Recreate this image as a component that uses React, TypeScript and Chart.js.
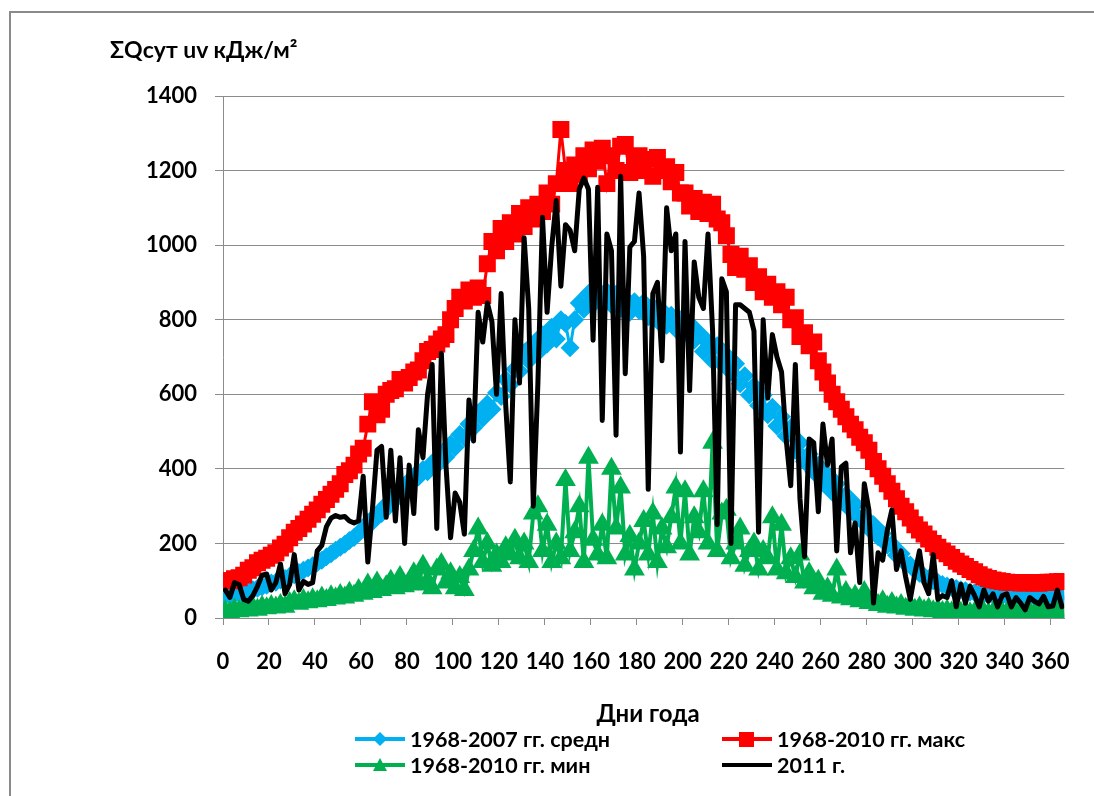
import React, { useEffect, useRef } from 'react';
import Chart from 'chart.js/auto';

// Day of year (every second day)
const days: number[] = Array.from({ length: 183 }, (_, i) => 1 + i * 2);

const seriesLabels = ['1968-2007 гг. средн', '1968-2010 гг. макс', '1968-2010 гг. мин', '2011 г.'];
const xTickValues = [0, 20, 40, 60, 80, 100, 120, 140, 160, 180, 200, 220, 240, 260, 280, 300, 320, 340, 360];
const yTickValues = [0, 200, 400, 600, 800, 1000, 1200, 1400];

const meanValues = [
  62, 60, 66, 65, 70, 74, 76, 80, 84, 88,
  94, 96, 102, 106, 112, 116, 122, 128, 134, 140,
  148, 155, 164, 172, 182, 190, 198, 208, 216, 228,
  238, 256, 258, 278, 280, 304, 306, 330, 330, 356,
  358, 380, 378, 398, 392, 416, 410, 440, 432, 466,
  458, 492, 484, 520, 510, 550, 536, 574, 560, 604,
  594, 640, 626, 668, 662, 712, 690, 735, 712, 760,
  735, 780, 748, 800, 790, 725, 800, 845, 828, 870,
  842, 880, 852, 875, 840, 868, 830, 856, 820, 848,
  825, 846, 808, 835, 798, 825, 785, 812, 775, 800,
  765, 790, 745, 765, 715, 740, 690, 730, 682, 705,
  660, 682, 628, 650, 598, 622, 570, 598, 545, 565,
  515, 540, 488, 510, 450, 470, 420, 440, 392, 410,
  362, 385, 338, 360, 316, 330, 290, 305, 266, 272,
  240, 250, 218, 226, 196, 198, 168, 172, 146, 142,
  128, 120, 112, 106, 100, 95, 90, 86, 82, 79,
  76, 73, 70, 68, 66, 64, 63, 62, 61, 60,
  60, 59, 58, 58, 57, 57, 56, 56, 55, 55,
  55, 54, 54,
];

const maxValues = [
  100, 100, 105, 108, 115, 128, 135, 148, 155, 160,
  168, 175, 188, 198, 215, 230, 240, 252, 265, 278,
  290, 305, 318, 332, 345, 360, 385, 395, 410, 440,
  455, 520, 580, 545, 560, 600, 610, 615, 640, 630,
  645, 660, 665, 690, 715, 720, 735, 748, 760, 800,
  830, 860, 850, 880, 860, 885, 865, 950, 1010, 985,
  1045, 1010, 1060, 1030, 1085, 1050, 1100, 1070, 1110, 1090,
  1140, 1110, 1165, 1310, 1200, 1165, 1215, 1190, 1240, 1205,
  1255, 1225, 1260, 1165, 1240, 1200, 1265, 1270, 1195, 1230,
  1240, 1200, 1230, 1185, 1235, 1200, 1210, 1170, 1195, 1140,
  1140, 1105, 1125, 1090, 1115, 1085, 1110, 1070, 1060, 1025,
  975, 940, 970, 935, 945, 900, 915, 875, 895, 860,
  875, 840, 860, 800, 805, 755, 765, 730, 740, 690,
  660, 630, 600, 580, 560, 540, 520, 505, 485, 470,
  450, 420, 400, 380, 360, 340, 320, 300, 285, 268,
  250, 236, 225, 212, 200, 190, 180, 172, 162, 152,
  145, 138, 130, 124, 116, 110, 106, 102, 100, 98,
  96, 95, 95, 94, 94, 95, 94, 93, 95, 96,
  96, 97, 98,
];

const minValues = [
  18, 15, 22, 18, 25, 20, 28, 22, 30, 26,
  32, 28, 35, 30, 40, 45, 38, 48, 42, 50,
  45, 55, 48, 58, 52, 62, 55, 68, 60, 75,
  65, 90, 70, 95, 75, 85, 100, 80, 110, 85,
  95, 120, 90, 140, 100, 80, 130, 145, 95, 120,
  80, 110, 75, 130, 180, 240, 150, 200, 140, 170,
  150, 190, 170, 210, 160, 200, 150, 280, 300, 180,
  250, 150, 200, 160, 370, 180, 230, 300, 150, 430,
  210, 170, 250, 160, 400, 240, 350, 170, 220, 130,
  200, 260, 170, 280, 150, 240, 190, 270, 350, 200,
  340, 170, 270, 230, 340, 200, 470, 180, 280, 290,
  160, 200, 240, 140, 180, 200, 130, 180, 160, 270,
  130, 250, 120, 160, 110, 170, 95, 120, 80, 100,
  65, 80, 60, 130, 55, 70, 50, 60, 45, 70,
  40, 50, 35, 45, 30, 40, 28, 35, 25, 32,
  22, 28, 20, 25, 18, 22, 16, 20, 15, 18,
  14, 16, 13, 15, 12, 15, 12, 14, 12, 15,
  13, 14, 12, 15, 13, 14, 12, 15, 13, 14,
  15, 14, 16,
];

const year2011Values = [
  75, 55, 95, 90, 50, 45, 60, 85, 115, 118,
  75, 95, 145, 65, 90, 170, 75, 98, 90, 95,
  180, 195, 245, 268, 275, 270, 272, 260, 255, 260,
  380, 150, 290, 450, 460, 270, 450, 260, 430, 200,
  410, 280, 505, 430, 600, 680, 240, 710, 410, 215,
  335, 310, 225, 585, 475, 820, 740, 845, 795, 600,
  870, 570, 365, 800, 630, 1020, 830, 300, 630, 1075,
  820, 995, 1120, 890, 1055, 1040, 985, 1150, 1180, 1150,
  745, 1155, 530, 1030, 985, 490, 1185, 655, 995, 1010,
  1140, 970, 345, 870, 900, 690, 1100, 985, 1030, 445,
  1010, 610, 955, 860, 830, 1030, 770, 250, 910, 875,
  200, 840, 840, 830, 820, 770, 230, 800, 590, 760,
  700, 660, 480, 355, 680, 320, 165, 480, 470, 285,
  520, 410, 480, 180, 405, 415, 175, 255, 95, 360,
  290, 40, 175, 155, 235, 290, 130, 180, 110, 50,
  120, 180, 95, 65, 170, 50, 60, 55, 100, 30,
  90, 40, 85, 60, 30, 75, 45, 65, 30, 60,
  65, 30, 55, 40, 22, 55, 45, 38, 58, 30,
  32, 75, 30,
];

const BLUE = '#00B0F0';
const RED = '#FF0000';
const GREEN = '#00B050';
const GRID = '#8C8C8C';
const FONT = "Lato, 'Open Sans', 'Noto Sans', sans-serif";

const toPoints = (vals: number[]) => vals.map((v, i) => ({ x: days[i], y: v }));

function LegendItem({ left, cy, color, kind, text }: { left: number; cy: number; color: string; kind: string; text: string }) {
  let marker: React.ReactNode = null;
  if (kind === 'diamond') {
    marker = <div style={{ position: 'absolute', left: 20, top: 7, width: 10, height: 10, background: color, transform: 'rotate(45deg)' }} />;
  } else if (kind === 'square') {
    marker = <div style={{ position: 'absolute', left: 17, top: 5, width: 15, height: 15, background: color }} />;
  } else if (kind === 'triangle') {
    marker = (
      <div style={{ position: 'absolute', left: 18, top: 5, width: 0, height: 0, borderLeft: '7px solid transparent', borderRight: '7px solid transparent', borderBottom: `13px solid ${color}` }} />
    );
  }
  return (
    <div style={{ position: 'absolute', left, top: cy - 12, height: 24, display: 'flex', alignItems: 'center' }}>
      <div style={{ position: 'relative', width: 50, height: 24 }}>
        <div style={{ position: 'absolute', left: 0, top: 10, width: 50, height: 4, background: color }} />
        {marker}
      </div>
      <span style={{ marginLeft: 5, fontFamily: FONT, fontWeight: 700, fontSize: 21.5, color: '#000', whiteSpace: 'nowrap' }}>{text}</span>
    </div>
  );
}

export default function App() {
  const canvasRef = useRef<HTMLCanvasElement>(null);

  useEffect(() => {
    const canvas = canvasRef.current;
    if (!canvas) return;
    const tickFont = { family: FONT, size: 22, weight: 'bold' as const };
    const chart = new Chart(canvas, {
      type: 'line',
      data: {
        datasets: [
          {
            label: seriesLabels[0],
            data: toPoints(meanValues),
            borderColor: BLUE,
            backgroundColor: BLUE,
            borderWidth: 3,
            pointStyle: 'rectRot',
            pointRadius: 9.5,
            pointBorderWidth: 0,
            order: 3,
          },
          {
            label: seriesLabels[1],
            data: toPoints(maxValues),
            borderColor: RED,
            backgroundColor: RED,
            borderWidth: 3,
            pointStyle: 'rect',
            pointRadius: 12,
            pointBorderWidth: 0,
            order: 2,
          },
          {
            label: seriesLabels[2],
            data: toPoints(minValues),
            borderColor: GREEN,
            backgroundColor: GREEN,
            borderWidth: 4,
            pointStyle: 'triangle',
            pointRadius: 12,
            pointBorderWidth: 0,
            order: 1,
          },
          {
            label: seriesLabels[3],
            data: toPoints(year2011Values),
            borderColor: '#000000',
            backgroundColor: '#000000',
            borderWidth: 5,
            pointRadius: 0,
            borderJoinStyle: 'round',
            borderCapStyle: 'round',
            order: 0,
          },
        ],
      },
      options: {
        responsive: false,
        animation: false,
        devicePixelRatio: 1,
        layout: { padding: { left: 0, top: 96, right: 23, bottom: 100 } },
        plugins: { legend: { display: false }, tooltip: { enabled: false }, title: { display: false } },
        scales: {
          x: {
            type: 'linear',
            min: 0,
            max: 366,
            afterFit: (s: any) => { s.height = 78; },
            afterBuildTicks: (s: any) => { s.ticks = xTickValues.map((v) => ({ value: v })); },
            grid: { drawOnChartArea: false, drawTicks: true, tickLength: 7, color: GRID },
            border: { display: true, color: GRID, width: 1 },
            ticks: { autoSkip: false, maxRotation: 0, minRotation: 0, padding: 24, color: '#000', font: tickFont, callback: (v: any) => String(v) },
          },
          y: {
            min: 0,
            max: 1400,
            afterFit: (s: any) => { s.width = 223; },
            afterBuildTicks: (s: any) => { s.ticks = yTickValues.map((v) => ({ value: v })); },
            grid: { color: GRID, tickLength: 8, lineWidth: 1 },
            border: { display: true, color: GRID, width: 1 },
            ticks: { padding: 18, color: '#000', font: tickFont, callback: (v: any) => String(v) },
          },
        },
      },
    });
    return () => chart.destroy();
  }, []);

  return (
    <div style={{ position: 'fixed', left: 0, top: 0, width: 1094, height: 796, overflow: 'hidden', background: '#fff' }}>
      <div style={{ position: 'absolute', left: 9, top: 11, width: 1300, height: 1000, border: '2px solid #8a8a8a', boxSizing: 'border-box' }} />
      <canvas ref={canvasRef} width={1094} height={796} style={{ position: 'absolute', left: 0, top: 0 }} />
      <div style={{ position: 'absolute', left: 110, top: 35, fontFamily: FONT, fontWeight: 700, fontSize: 23, color: '#000', whiteSpace: 'nowrap' }}>
        ΣQсут uv кДж/м²
      </div>
      <div style={{ position: 'absolute', left: 548, width: 200, top: 698, textAlign: 'center', fontFamily: FONT, fontWeight: 700, fontSize: 24, color: '#000' }}>
        Дни года
      </div>
      <LegendItem left={355} cy={739} color={BLUE} kind="diamond" text={seriesLabels[0]} />
      <LegendItem left={722} cy={739} color={RED} kind="square" text={seriesLabels[1]} />
      <LegendItem left={355} cy={765} color={GREEN} kind="triangle" text={seriesLabels[2]} />
      <LegendItem left={722} cy={765} color="#000000" kind="line" text={seriesLabels[3]} />
    </div>
  );
}
